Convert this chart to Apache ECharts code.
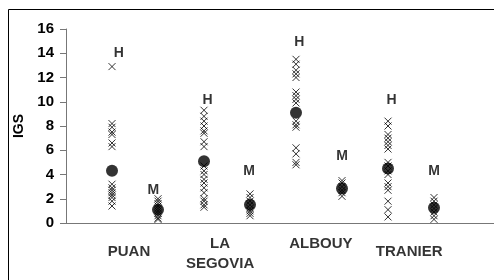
<!DOCTYPE html>
<html>
<head>
<meta charset="utf-8">
<script src="https://cdn.jsdelivr.net/npm/echarts@6/dist/echarts.min.js"></script>
<style>
html,body{margin:0;padding:0;background:#fff;}
#igs-chart{width:494px;height:280px;}
</style>
</head>
<body>
<div id="igs-chart"></div>
<script>
var sites = ['PUAN', 'LA\nSEGOVIA', 'ALBOUY', 'TRANIER'];
var groupNames = ['H', 'M'];
var yTicks = [0, 2, 4, 6, 8, 10, 12, 14, 16];

// valeurs individuelles (x) par site, groupe H puis M
var puanH = [12.9, 8.2, 7.9, 7.5, 7.3, 6.6, 6.3, 3.2, 2.9, 2.7, 2.5, 2.3, 2.1, 1.8, 1.4];
var puanM = [2.0, 1.8, 1.6, 1.4, 1.2, 1.0, 0.8, 0.6, 0.4, 0.3];
var segoviaH = [9.3, 8.8, 8.4, 8.0, 7.6, 7.4, 6.7, 6.3, 4.7, 4.3, 4.0, 3.6, 3.3, 2.9, 2.5, 2.0, 1.8, 1.5, 1.3];
var segoviaM = [2.4, 2.1, 1.8, 1.5, 1.2, 1.0, 0.8, 0.6];
var albouyH = [13.5, 13.1, 12.6, 12.3, 12.0, 10.8, 10.5, 10.2, 9.9, 8.4, 8.1, 7.9, 6.2, 5.7, 5.0, 4.8];
var albouyM = [3.5, 3.3, 3.0, 2.7, 2.5, 2.2];
var tranierH = [8.4, 8.0, 7.3, 7.0, 6.7, 6.4, 6.1, 5.0, 4.7, 4.3, 4.0, 3.3, 3.0, 2.7, 1.8, 1.1, 0.5];
var tranierM = [2.1, 1.8, 1.5, 1.2, 0.9, 0.6, 0.3];

// moyennes (points noirs)
var meansH = [4.3, 5.1, 9.1, 4.5];
var meansM = [1.1, 1.5, 2.85, 1.25];

// position des lettres H / M
var labelXH = [1.15, 3.08, 5.07, 7.08];
var labelYH = [14.0, 10.1, 14.9, 10.1];
var labelXM = [1.9, 3.98, 6.0, 8.0];
var labelYM = [2.7, 4.3, 5.5, 4.3];

// position des noms de site sous l'axe
var siteX = [1.37, 3.35, 5.54, 7.46];
var siteY = [-2.4, -2.55, -1.73, -2.4];

var igsChart = echarts.init(document.getElementById('igs-chart'));
var FONT = '"Liberation Sans", Arial, sans-serif';
var CROSS = 'path://M0,0L10,10M10,0L0,10';

function buildPoints(groups){
    var pts = [];
    for (var i = 0; i < groups.length; i++) {
        for (var j = 0; j < groups[i].length; j++) {
            pts.push([i + 1, groups[i][j]]);
        }
    }
    return pts;
}

function buildMeans(){
    var pts = [];
    for (var i = 0; i < sites.length; i++) {
        pts.push([i * 2 + 1, meansH[i]]);
        pts.push([i * 2 + 2, meansM[i]]);
    }
    return pts;
}

function buildLetters(){
    var pts = [];
    for (var i = 0; i < sites.length; i++) {
        pts.push({value: [labelXH[i], labelYH[i]], name: groupNames[0]});
        pts.push({value: [labelXM[i], labelYM[i]], name: groupNames[1]});
    }
    return pts;
}

function buildSites(){
    var pts = [];
    for (var i = 0; i < sites.length; i++) {
        pts.push({value: [siteX[i], siteY[i]], name: sites[i]});
    }
    return pts;
}

igsChart.setOption({
    animation: false,
    grid: {left: 66, right: 0, top: 29, bottom: 57},
    graphic: [{
        type: 'rect',
        shape: {x: 8.5, y: 9.5, width: 600, height: 400},
        style: {fill: 'none', stroke: '#000', lineWidth: 1}
    }],
    xAxis: {
        type: 'value',
        min: 0,
        max: 428 / 46,
        axisLine: {show: true, lineStyle: {color: '#777', width: 1}},
        axisTick: {show: false},
        axisLabel: {show: false},
        splitLine: {show: false}
    },
    yAxis: {
        type: 'value',
        min: yTicks[0],
        max: yTicks[yTicks.length - 1],
        interval: 2,
        name: 'IGS',
        nameLocation: 'middle',
        nameGap: 37,
        nameTextStyle: {fontFamily: FONT, fontWeight: 'bold', fontSize: 14, color: '#000'},
        axisLine: {show: true, lineStyle: {color: '#777', width: 1}},
        axisTick: {show: true, inside: false, length: 6, lineStyle: {color: '#777'}},
        axisLabel: {margin: 12, fontFamily: FONT, fontWeight: 'bold', fontSize: 15, color: '#000'},
        splitLine: {show: false}
    },
    series: [{
        type: 'scatter',
        symbol: CROSS,
        symbolSize: 7,
        itemStyle: {color: 'transparent', borderColor: '#000', borderWidth: 1},
        data: buildPoints([puanH, puanM, segoviaH, segoviaM, albouyH, albouyM, tranierH, tranierM])
    }, {
        type: 'scatter',
        symbol: 'circle',
        symbolSize: 12,
        itemStyle: {color: '#000'},
        data: buildMeans()
    }, {
        type: 'scatter',
        symbolSize: 1,
        itemStyle: {color: 'transparent'},
        label: {
            show: true, position: 'inside', formatter: '{b}',
            fontFamily: FONT, fontWeight: 'bold', fontSize: 14, color: '#000'
        },
        data: buildLetters()
    }, {
        type: 'scatter',
        clip: false,
        symbolSize: 1,
        itemStyle: {color: 'transparent'},
        label: {
            show: true, position: 'inside', formatter: '{b}', align: 'center',
            fontFamily: FONT, fontWeight: 'bold', fontSize: 15, lineHeight: 20, color: '#000'
        },
        data: buildSites()
    }]
});
</script>
</body>
</html>
